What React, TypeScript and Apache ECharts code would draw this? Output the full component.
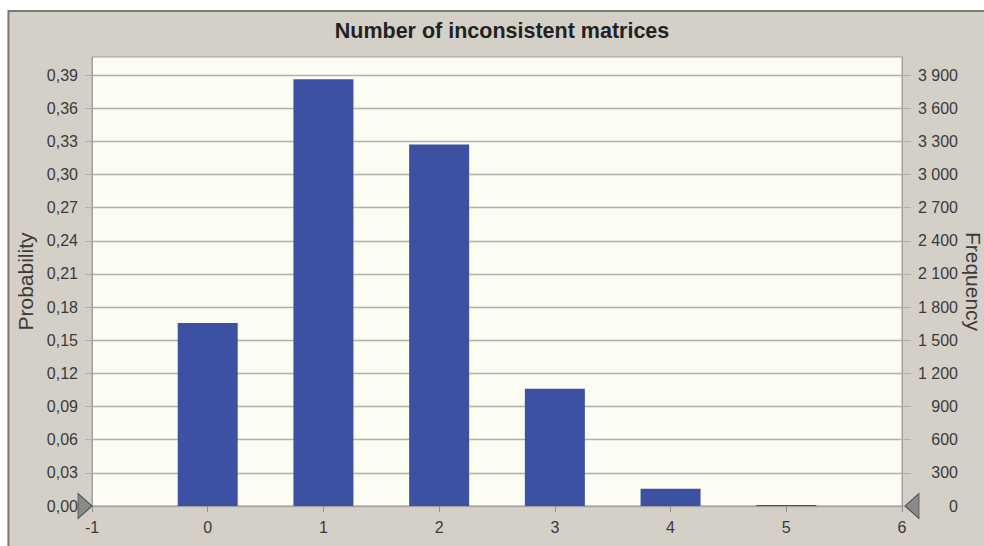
import React, { useEffect, useRef } from "react";
import * as echarts from "echarts";

const categories = [0, 1, 2, 3, 4, 5];
const probabilities = [0.1657, 0.3862, 0.3272, 0.1062, 0.0155, 0.001];
const probTicks = [0, 0.03, 0.06, 0.09, 0.12, 0.15, 0.18, 0.21, 0.24, 0.27, 0.3, 0.33, 0.36, 0.39];
const freqTicks = [0, 300, 600, 900, 1200, 1500, 1800, 2100, 2400, 2700, 3000, 3300, 3600, 3900];
const xTicks = [-1, 0, 1, 2, 3, 4, 5, 6];

const TITLE = "Number of inconsistent matrices";
const PROB_MAX = 0.4063;
const FREQ_MAX = 4063;

const fmtProb = (v: number) => v.toFixed(2).replace(".", ",");
const fmtFreq = (v: number) => {
  if (v >= 1000) {
    const th = Math.floor(v / 1000);
    const rest = String(Math.round(v % 1000)).padStart(3, "0");
    return th + " " + rest;
  }
  return String(Math.round(v));
};

export default function App() {
  const ref = useRef<HTMLDivElement>(null);
  useEffect(() => {
    if (!ref.current) return;
    const chart = echarts.init(ref.current, null, { renderer: "svg" });
    const textColor = "#3a3a3a";
    const gridColor = "#b0b0b0";
    chart.setOption({
      animation: false,
      backgroundColor: "#d4d0c8",
      textStyle: { fontFamily: "Liberation Sans, Arial, sans-serif" },
      title: {
        text: TITLE,
        left: 497,
        top: 15,
        textAlign: "center",
        textStyle: {
          fontFamily: "Liberation Sans, Arial, sans-serif",
          fontWeight: "bold",
          fontSize: 21.5,
          color: "#222",
        },
      },
      graphic: [
        { type: "rect", silent: true, shape: { x: 0, y: 0, width: 984, height: 10 }, style: { fill: "#ffffff" } },
        { type: "rect", silent: true, shape: { x: 0, y: 0, width: 7.5, height: 546 }, style: { fill: "#ffffff" } },
        {
          type: "polyline",
          silent: true,
          shape: { points: [[8.5, 546], [8.5, 11], [984, 11]] },
          style: { stroke: "#7a7a7a", lineWidth: 2, fill: null },
        },
      ],
      grid: {
        left: 92,
        top: 57,
        right: 82,
        bottom: 40,
        outerBoundsMode: "none",
        containLabel: false,
        show: true,
        backgroundColor: "#fcfcf2",
        borderColor: "#a0a0a0",
        borderWidth: 1,
      },
      xAxis: {
        type: "value",
        min: -1,
        max: 6,
        interval: 1,
        splitLine: { show: false },
        axisLine: { show: true, onZero: false, lineStyle: { color: "#a0a0a0" } },
        axisTick: { show: true, length: 6, lineStyle: { color: "#909090" }, customValues: xTicks },
        axisLabel: {
          customValues: xTicks,
          fontSize: 16,
          color: textColor,
          margin: 13,
          formatter: (v: number) => String(v),
        },
      },
      yAxis: [
        {
          type: "value",
          min: 0,
          max: PROB_MAX,
          interval: 0.03,
          position: "left",
          name: "Probability",
          nameLocation: "middle",
          nameGap: 56,
          nameMoveOverlap: false,
          nameTextStyle: { fontSize: 21, color: textColor },
          axisLine: { show: true, onZero: false, lineStyle: { color: "#a0a0a0" } },
          axisTick: { show: true, length: 7, lineStyle: { color: gridColor }, customValues: probTicks },
          axisLabel: {
            customValues: probTicks,
            fontSize: 16,
            color: textColor,
            margin: 14,
            formatter: fmtProb,
          },
          splitLine: { show: true, lineStyle: { color: gridColor, width: 1.3 } },
        },
        {
          type: "value",
          min: 0,
          max: FREQ_MAX,
          interval: 300,
          position: "right",
          name: "Frequency",
          nameLocation: "middle",
          nameRotate: -90,
          nameGap: 61,
          nameMoveOverlap: false,
          nameTextStyle: { fontSize: 21, color: textColor },
          axisLine: { show: true, onZero: false, lineStyle: { color: "#a0a0a0" } },
          axisTick: { show: true, length: 9, lineStyle: { color: gridColor }, customValues: freqTicks },
          axisLabel: {
            customValues: freqTicks,
            fontSize: 16,
            color: textColor,
            margin: 56,
            align: "right",
            formatter: fmtFreq,
          },
          splitLine: { show: false },
        },
      ],
      series: [
        {
          type: "bar",
          xAxisIndex: 0,
          yAxisIndex: 0,
          barWidth: 60,
          data: categories.map((c, i) => [c, probabilities[i]]),
          itemStyle: { color: "#3c51a2" },
          markPoint: {
            silent: true,
            label: { show: false },
            data: [
              {
                coord: [-1, 0],
                symbol: "triangle",
                symbolSize: [25, 14],
                symbolRotate: -90,
                symbolOffset: [-7, 0],
                itemStyle: { color: "#8a8a8a", borderColor: "#4a4a4a", borderWidth: 1 },
              },
              {
                coord: [6, 0],
                symbol: "triangle",
                symbolSize: [25, 14],
                symbolRotate: 90,
                symbolOffset: [10, 0],
                itemStyle: { color: "#8a8a8a", borderColor: "#4a4a4a", borderWidth: 1 },
              },
            ],
          },
        },
      ],
    });
    return () => chart.dispose();
  }, []);
  return (
    <div
      ref={ref}
      style={{ position: "absolute", left: 0, top: 0, width: 984, height: 546 }}
    />
  );
}
